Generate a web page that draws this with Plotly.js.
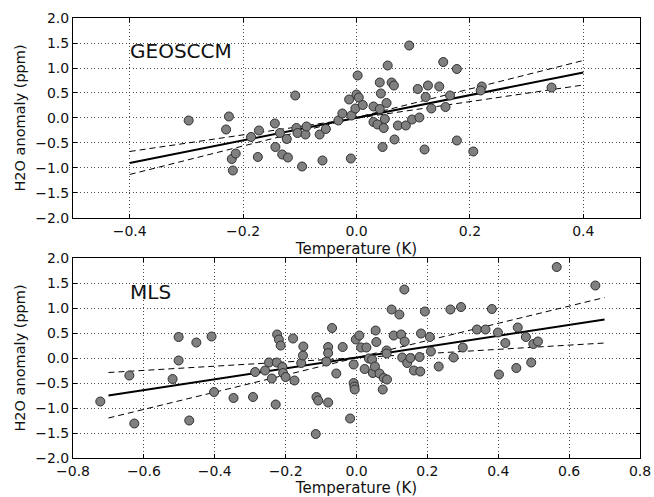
<!DOCTYPE html>
<html>
<head>
<meta charset="utf-8">
<script src="https://cdn.plot.ly/plotly-3.0.1.min.js"></script>
<style>html,body{margin:0;padding:0;background:#fff;}#chart{width:654px;height:497px;}</style>
</head>
<body>
<div id="chart"></div>
<script>
// ---- GEOSCCM panel data ----
const geosX = [-0.296,-0.225,-0.230,-0.186,-0.172,-0.220,-0.213,-0.218,-0.174,-0.144,-0.143,-0.131,-0.121,-0.135,-0.123,-0.108,-0.106,-0.104,-0.096,-0.090,-0.088,-0.065,-0.060,-0.054,-0.032,-0.025,-0.010,-0.013,-0.009,-0.002,0.002,0.000,0.004,0.011,0.030,0.030,0.037,0.041,0.041,0.043,0.046,0.048,0.050,0.053,0.055,0.062,0.066,0.067,0.073,0.087,0.093,0.098,0.108,0.111,0.120,0.122,0.126,0.132,0.146,0.153,0.157,0.165,0.177,0.177,0.206,0.221,0.219,0.344];
const geosY = [-0.05,0.03,-0.23,-0.38,-0.25,-0.82,-0.71,-1.05,-0.78,-0.11,-0.58,-0.73,-0.79,-0.30,-0.42,0.45,-0.20,-0.30,-0.97,-0.33,-0.17,-0.33,-0.85,-0.22,-0.05,0.09,-0.81,0.37,0.05,0.19,0.85,0.47,0.41,0.26,0.23,-0.08,-0.13,0.18,0.71,0.49,-0.58,-0.20,-0.02,0.30,1.05,0.71,0.65,-0.43,-0.15,-0.15,1.45,-0.03,0.58,0.01,-0.63,0.42,0.65,0.19,0.63,1.12,0.22,0.45,0.98,-0.45,-0.67,0.63,0.55,0.61];
const geosFitX = [-0.4, 0.4];
const geosFitY = [-0.90, 0.91];
const geosLoY  = [-0.67, 0.66];
const geosHiY  = [-1.13, 1.15];

// ---- MLS panel data ----
const mlsX = [-0.723,-0.641,-0.627,-0.519,-0.502,-0.502,-0.472,-0.452,-0.409,-0.402,-0.347,-0.292,-0.286,-0.258,-0.247,-0.239,-0.228,-0.224,-0.219,-0.225,-0.214,-0.209,-0.207,-0.200,-0.179,-0.175,-0.156,-0.151,-0.150,-0.113,-0.108,-0.115,-0.085,-0.080,-0.080,-0.080,-0.069,-0.057,-0.039,-0.018,-0.008,-0.008,-0.006,-0.005,-0.002,0.008,0.013,0.028,0.023,0.035,0.044,0.046,0.052,0.054,0.056,0.065,0.074,0.077,0.085,0.085,0.086,0.099,0.105,0.121,0.126,0.129,0.135,0.136,0.143,0.152,0.162,0.178,0.180,0.182,0.193,0.207,0.210,0.232,0.265,0.274,0.295,0.300,0.340,0.364,0.382,0.399,0.402,0.420,0.451,0.455,0.478,0.493,0.499,0.512,0.565,0.674];
const mlsY = [-0.87,-0.35,-1.31,-0.42,0.42,-0.05,-1.25,0.31,0.43,-0.68,-0.80,-0.78,-0.28,-0.25,-0.09,-0.41,-0.93,0.47,0.37,-0.09,0.25,-0.18,-0.30,-0.38,0.39,-0.45,-0.10,0.05,0.23,-0.78,-0.85,-1.52,-0.07,0.22,0.10,-0.89,0.60,-0.31,0.22,-1.21,-0.13,-0.50,-0.57,-0.63,0.37,0.45,0.21,0.21,-0.22,-0.01,-0.03,-0.30,-0.17,0.55,0.32,-0.31,-0.63,-0.40,0.15,0.09,-0.43,0.97,0.45,0.87,0.47,0.01,1.37,0.33,-0.10,0.00,-0.25,0.02,-0.27,0.49,0.93,0.42,0.13,-0.17,0.97,0.01,1.02,0.21,0.57,0.57,0.98,0.51,-0.33,0.30,-0.20,0.61,0.42,-0.09,0.28,0.33,1.82,1.45];
const mlsFitX = [-0.70, 0.70];
const mlsFitY = [-0.75, 0.77];
const mlsLoY  = [-0.29, 0.30];
const mlsHiY  = [-1.20, 1.21];

const xTitle = "Temperature (K)";
const yTitle = "H2O anomaly (ppm)";
const panelNames = ["GEOSCCM", "MLS"];

const marker = {size: 9, color: '#808080', line: {color: '#303030', width: 1}};
const solid = {color: '#000', width: 2};
const dashed = {color: '#000', width: 1, dash: '6px,4px'};

const traces = [
  {x: geosFitX, y: geosFitY, mode: 'lines', line: solid, xaxis: 'x', yaxis: 'y'},
  {x: geosFitX, y: geosLoY, mode: 'lines', line: dashed, xaxis: 'x', yaxis: 'y'},
  {x: geosFitX, y: geosHiY, mode: 'lines', line: dashed, xaxis: 'x', yaxis: 'y'},
  {x: geosX, y: geosY, mode: 'markers', marker: marker, xaxis: 'x', yaxis: 'y'},
  {x: mlsFitX, y: mlsFitY, mode: 'lines', line: solid, xaxis: 'x2', yaxis: 'y2'},
  {x: mlsFitX, y: mlsLoY, mode: 'lines', line: dashed, xaxis: 'x2', yaxis: 'y2'},
  {x: mlsFitX, y: mlsHiY, mode: 'lines', line: dashed, xaxis: 'x2', yaxis: 'y2'},
  {x: mlsX, y: mlsY, mode: 'markers', marker: marker, xaxis: 'x2', yaxis: 'y2'}
];

const font = {family: 'DejaVu Sans, sans-serif', size: 14, color: '#000'};
function axisCommon(extra) {
  return Object.assign({
    showline: true, linecolor: '#000', linewidth: 1, mirror: 'ticks',
    ticks: 'inside', ticklen: 4, tickcolor: '#000', tickwidth: 1,
    showgrid: true, gridcolor: '#222', gridwidth: 0.8, griddash: '1px,2.5px',
    zeroline: false, tickfont: {size: 14, color: '#111'},
    tickformat: '.1f', fixedrange: true
  }, extra);
}

const layout = {
  width: 654, height: 497,
  margin: {l: 72.5, r: 13.5, t: 18.3, b: 38.7},
  paper_bgcolor: '#fff', plot_bgcolor: '#fff',
  font: font, showlegend: false,
  xaxis: axisCommon({range: [-0.5, 0.5], tickvals: [-0.4,-0.2,0,0.2,0.4], anchor: 'y',
    title: {text: xTitle, font: {size: 15, color: '#111'}, standoff: 5}}),
  yaxis: axisCommon({range: [-2, 2], dtick: 0.5, tick0: 0, domain: [0.5455, 1], anchor: 'x',
    title: {text: yTitle, font: {size: 14.5, color: '#111'}, standoff: 6}}),
  xaxis2: axisCommon({range: [-0.8, 0.8], dtick: 0.2, tick0: 0, anchor: 'y2',
    title: {text: xTitle, font: {size: 15, color: '#111'}, standoff: 5}}),
  yaxis2: axisCommon({range: [-2, 2], dtick: 0.5, tick0: 0, domain: [0, 0.4545], anchor: 'x2',
    title: {text: yTitle, font: {size: 14.5, color: '#111'}, standoff: 6}}),
  annotations: [
    {text: panelNames[0], xref: 'x domain', yref: 'y domain', x: 0.097, y: 0.836,
     xanchor: 'left', yanchor: 'middle', showarrow: false, font: {size: 20, color: '#111'}},
    {text: panelNames[1], xref: 'x2 domain', yref: 'y2 domain', x: 0.097, y: 0.83,
     xanchor: 'left', yanchor: 'middle', showarrow: false, font: {size: 20, color: '#111'}}
  ]
};

Plotly.newPlot('chart', traces, layout, {displayModeBar: false, staticPlot: true});
</script>
</body>
</html>
